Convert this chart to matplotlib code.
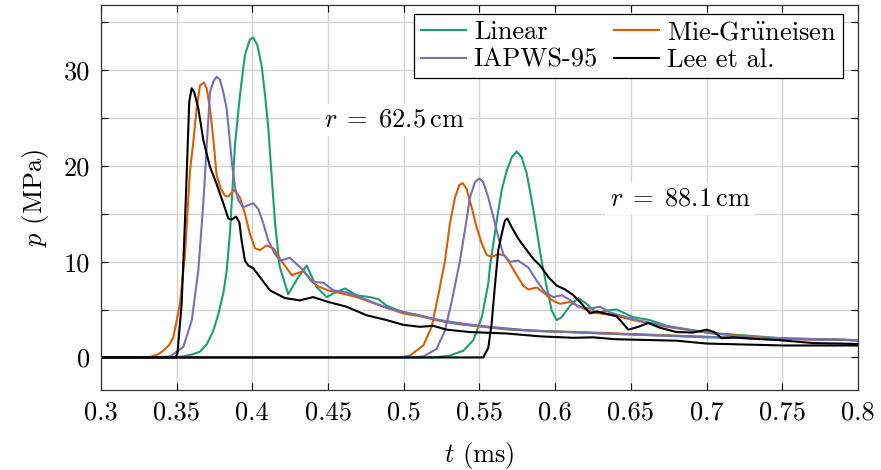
import numpy as np
import matplotlib
matplotlib.use("Agg")
import matplotlib.pyplot as plt
from matplotlib.ticker import MultipleLocator, FuncFormatter

plt.rcParams["font.family"] = ["cmr10", "DejaVu Serif"]
plt.rcParams["mathtext.fontset"] = "cm"
plt.rcParams["axes.unicode_minus"] = False
plt.rcParams["axes.formatter.use_mathtext"] = True

#%% data: t (ms), p (MPa)
# r = 62.5 cm
lin_t1 = [0.3, 0.345, 0.354, 0.36, 0.3654, 0.37, 0.3742, 0.3775, 0.3808, 0.383, 0.3852, 0.387,
          0.3885, 0.3918, 0.3951, 0.3984, 0.4006, 0.4033, 0.4061, 0.4083, 0.4105, 0.4127, 0.415, 0.418,
          0.4237, 0.43, 0.4359, 0.4424, 0.4491, 0.455, 0.4612, 0.4688, 0.4777, 0.4831, 0.4887, 0.4997,
          0.5106, 0.5217, 0.5349, 0.5525, 0.5701, 0.59, 0.6164, 0.65, 0.7, 0.75, 0.8]
lin_p1 = [0, 0, 0.1, 0.3, 0.6, 1.4, 2.8, 4.5, 6.7, 9.0, 13.0, 18.0,
          22.2, 27.4, 31.6, 33.2, 33.4, 32.6, 30.5, 27.5, 24.0, 19.0, 14.0, 9.5,
          6.6, 8.3, 9.6, 7.35, 6.3, 6.8, 7.2, 6.5, 6.3, 6.1, 5.4, 4.7,
          4.4, 3.9, 3.5, 3.2, 2.9, 2.75, 2.6, 2.4, 2.1, 1.95, 1.8]

mie_t1 = [0.3, 0.325, 0.3324, 0.3375, 0.3412, 0.345, 0.3478, 0.3522, 0.3555, 0.3588, 0.361, 0.3632,
          0.3654, 0.368, 0.3698, 0.372, 0.3742, 0.3764, 0.3792, 0.3819, 0.3841, 0.3878, 0.3918, 0.3951,
          0.3984, 0.4017, 0.405, 0.4094, 0.4138, 0.4182, 0.426, 0.4336, 0.4424, 0.45, 0.46, 0.4688,
          0.4777, 0.4865, 0.4997, 0.5106, 0.5283, 0.55, 0.57, 0.59, 0.6164, 0.65, 0.7, 0.75, 0.8]
mie_p1 = [0, 0, 0.05, 0.3, 0.7, 1.3, 2.1, 5.6, 10.8, 19.5, 22.5, 26.0,
          28.4, 28.7, 28.1, 26.0, 22.8, 19.0, 17.6, 16.9, 16.8, 17.5, 16.7, 15.0,
          12.9, 11.4, 11.2, 11.7, 11.4, 10.3, 8.6, 9.0, 7.5, 7.0, 6.65, 6.3,
          5.8, 5.3, 4.6, 4.3, 3.7, 3.25, 2.95, 2.75, 2.65, 2.45, 2.15, 1.95, 1.8]

iap_t1 = [0.3, 0.335, 0.3456, 0.3544, 0.36, 0.3643, 0.3676, 0.3698, 0.372, 0.3742, 0.3764, 0.3786,
          0.3808, 0.383, 0.3852, 0.3863, 0.3885, 0.3907, 0.394, 0.3973, 0.4006, 0.4039, 0.4072, 0.4105,
          0.4149, 0.4182, 0.4248, 0.4336, 0.4392, 0.4468, 0.4535, 0.4623, 0.4711, 0.482, 0.4908, 0.5041,
          0.52, 0.54, 0.56, 0.58, 0.6164, 0.65, 0.7, 0.75, 0.8]
iap_p1 = [0, 0, 0.1, 1.1, 3.9, 9.1, 16.1, 22.0, 27.7, 28.8, 29.3, 29.0,
          27.7, 26.0, 22.5, 20.6, 17.8, 16.4, 15.7, 15.9, 16.1, 15.5, 14.0, 12.2,
          10.8, 10.1, 10.4, 9.1, 7.9, 7.8, 7.0, 6.8, 6.3, 5.6, 5.1, 4.6,
          4.0, 3.5, 3.15, 2.85, 2.6, 2.4, 2.15, 1.95, 1.8]

lee_t1 = [0.3, 0.349, 0.3505, 0.3533, 0.3555, 0.3566, 0.3583, 0.3599, 0.3616, 0.3643, 0.3676, 0.372,
          0.3764, 0.3808, 0.3841, 0.3863, 0.3892, 0.3914, 0.3929, 0.3951, 0.3973, 0.4006, 0.405, 0.4116,
          0.4215, 0.4314, 0.4401, 0.45, 0.4621, 0.4755, 0.4887, 0.4997, 0.5106, 0.5195, 0.5283, 0.5437,
          0.568, 0.59, 0.612, 0.625, 0.64, 0.68, 0.7, 0.75, 0.8]
lee_p1 = [0, 0, 0.4, 5.6, 14.3, 19.0, 26.7, 28.1, 27.7, 26.0, 22.7, 19.9,
          18.1, 16.1, 14.5, 14.4, 14.7, 14.1, 12.2, 10.1, 9.6, 9.3, 8.4, 7.0,
          6.2, 5.96, 6.3, 5.8, 5.3, 4.4, 3.9, 3.4, 3.2, 3.3, 2.9, 2.65,
          2.5, 2.2, 2.05, 2.1, 1.9, 1.75, 1.45, 1.25, 1.25]

# r = 88.1 cm
lin_t2 = [0.3, 0.52, 0.5305, 0.5393, 0.5459, 0.5515, 0.5558, 0.5569, 0.5614, 0.5647, 0.568, 0.5713,
          0.5746, 0.5779, 0.5812, 0.5845, 0.5878, 0.59, 0.5944, 0.5977, 0.601, 0.6043, 0.6098, 0.6153,
          0.6208, 0.6274, 0.634, 0.6406, 0.6516, 0.6626, 0.6736, 0.7, 0.75, 0.8]
lin_p2 = [0, 0, 0.2, 0.7, 1.8, 4.2, 7.7, 9.5, 14.3, 17.5, 19.5, 20.9,
          21.5, 20.9, 19.2, 16.4, 13.3, 11.0, 7.35, 4.9, 3.9, 4.2, 5.4, 6.2,
          5.6, 4.6, 4.9, 5.0, 4.2, 3.9, 3.3, 2.6, 2.0, 1.8]

mie_t2 = [0.3, 0.497, 0.5041, 0.5129, 0.5184, 0.5228, 0.5272, 0.5305, 0.5338, 0.5367, 0.5389, 0.5415,
          0.5448, 0.5481, 0.5515, 0.5548, 0.5581, 0.5624, 0.5668, 0.5701, 0.5734, 0.5789, 0.5822, 0.5878,
          0.5933, 0.5977, 0.6032, 0.6098, 0.6186, 0.6252, 0.6384, 0.6516, 0.6736, 0.7044, 0.7484, 0.8]
mie_p2 = [0, 0, 0.2, 1.25, 3.2, 6.5, 10.1, 14.0, 16.7, 18.0, 18.2, 17.6,
          15.7, 13.6, 11.9, 10.7, 10.5, 10.8, 10.6, 9.8, 8.9, 7.5, 7.1, 7.3,
          6.65, 6.0, 5.6, 5.8, 5.1, 4.7, 4.4, 3.9, 3.2, 2.5, 1.95, 1.8]

iap_t2 = [0.3, 0.505, 0.5129, 0.5217, 0.5272, 0.5316, 0.5371, 0.5404, 0.5437, 0.547, 0.5499, 0.5525,
          0.5558, 0.5591, 0.5624, 0.5657, 0.5701, 0.5756, 0.5822, 0.5878, 0.5933, 0.5988, 0.6043, 0.6098,
          0.6153, 0.623, 0.6296, 0.6362, 0.6538, 0.6824, 0.7265, 0.8]
iap_p2 = [0, 0, 0.1, 0.9, 2.8, 5.8, 10.1, 13.3, 16.7, 18.3, 18.7, 18.3,
          16.7, 14.7, 12.6, 10.8, 10.0, 10.1, 9.4, 8.0, 6.8, 6.3, 6.5, 6.0,
          5.3, 5.1, 5.3, 4.7, 3.9, 3.0, 2.1, 1.8]

lee_t2 = [0.3, 0.5525, 0.5558, 0.558, 0.5602, 0.5624, 0.5647, 0.5668, 0.5684, 0.5713, 0.5756, 0.5812,
          0.5855, 0.59, 0.5955, 0.601, 0.6065, 0.612, 0.6164, 0.623, 0.6274, 0.6329, 0.6406, 0.6428,
          0.6483, 0.6549, 0.6615, 0.6692, 0.6802, 0.6912, 0.7001, 0.705, 0.71, 0.7176, 0.7308, 0.7484,
          0.7705, 0.788, 0.8]
lee_p2 = [0, 0, 1.0, 3.5, 7.5, 11.2, 12.9, 14.3, 14.5, 13.6, 12.4, 11.2,
          10.3, 9.6, 8.4, 7.5, 7.1, 6.5, 5.8, 4.6, 4.8, 4.6, 4.3, 3.9,
          2.9, 3.2, 3.6, 3.1, 2.65, 2.6, 2.9, 2.65, 2.0, 2.1, 1.95, 1.8,
          1.5, 1.45, 1.4]

labels = ["Linear", "Mie-Gr$\\ddot{\\mathrm{u}}$neisen", "IAPWS-95", "Lee et al."]
colors = ["#1b9e77", "#d95f02", "#7570b3", "black"]

#%%
fig = plt.figure(figsize=(8.81, 4.70), dpi=100)
ax = fig.add_axes([0.1146, 0.1702, 0.8593, 0.8192])

runs = [(lin_t1, lin_p1, lin_t2, lin_p2), (mie_t1, mie_p1, mie_t2, mie_p2),
        (iap_t1, iap_p1, iap_t2, iap_p2), (lee_t1, lee_p1, lee_t2, lee_p2)]
handles = []
for (t1, p1, t2, p2), lab, c in zip(runs, labels, colors):
    h, = ax.plot(t1, p1, color=c, lw=1.5, label=lab, solid_joinstyle="round")
    ax.plot(t2, p2, color=c, lw=1.5, solid_joinstyle="round")
    handles.append(h)

ax.set_xlim(0.3, 0.8)
ax.set_ylim(-3.4, 36.8)
ax.xaxis.set_major_locator(MultipleLocator(0.05))
ax.xaxis.set_major_formatter(FuncFormatter(lambda v, pos: "%g" % round(v, 3)))
ax.yaxis.set_major_locator(MultipleLocator(5))
ax.yaxis.set_major_formatter(FuncFormatter(lambda v, pos: "%d" % v if round(v) % 10 == 0 else ""))
ax.grid(True, color="#d3d3d3", lw=1.0)
ax.set_axisbelow(True)
ax.tick_params(direction="in", top=True, right=True, length=5, width=0.8, labelsize=19, pad=8)
for s in ax.spines.values():
    s.set_linewidth(0.9)
    s.set_color("#333333")

ax.set_xlabel("$t$ (ms)", fontsize=19, labelpad=11)
ax.set_ylabel("$p$ (MPa)", fontsize=19, labelpad=9)

box = dict(facecolor="white", edgecolor="none", pad=3)
ax.text(0.494, 24.8, "$r\\;=\\;62.5\\,\\mathrm{cm}$", fontsize=19, ha="center", va="center", bbox=box)
ax.text(0.6824, 16.6, "$r\\;=\\;88.1\\,\\mathrm{cm}$", fontsize=19, ha="center", va="center", bbox=box)

leg = ax.legend([handles[0], handles[2], handles[1], handles[3]],
                [labels[0], labels[2], labels[1], labels[3]],
                ncol=2, loc="upper right", bbox_to_anchor=(0.98, 0.977), borderaxespad=0,
                fontsize=19, fancybox=False, framealpha=1, edgecolor="black",
                handlelength=1.7, handletextpad=0.3, columnspacing=0.6,
                labelspacing=0.15, borderpad=0.25)
leg.get_frame().set_linewidth(0.9)

fig.savefig("out.png", dpi=100)
